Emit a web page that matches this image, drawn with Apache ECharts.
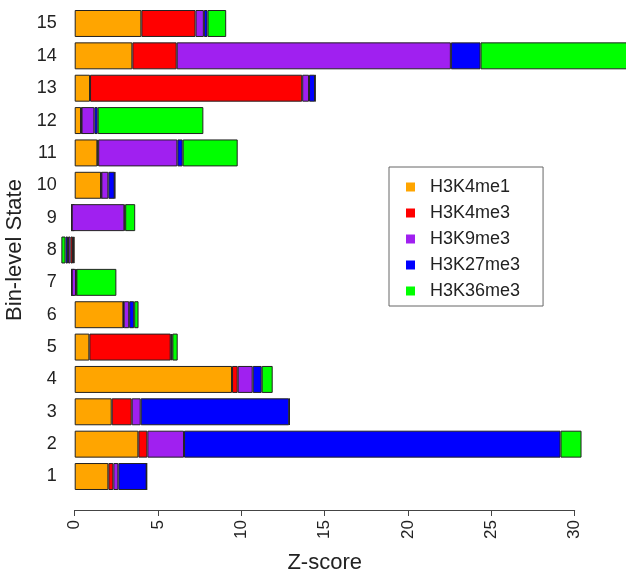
<!DOCTYPE html>
<html><head><meta charset="utf-8">
<script src="https://cdn.jsdelivr.net/npm/echarts@6/dist/echarts.min.js"></script>
<style>html,body{margin:0;padding:0;background:#fff}#c{width:626px;height:580px}</style>
</head><body><div id="c"></div>
<script>
var categories = ['1','2','3','4','5','6','7','8','9','10','11','12','13','14','15'];
var seriesNames = ['H3K4me1','H3K4me3','H3K9me3','H3K27me3','H3K36me3'];
var H3K4me1  = [2.02, 3.82, 2.22, 9.44, 0.88, 2.92, -0.18, -0.10, -0.18, 1.58, 1.36, 0.38, 0.92, 3.46, 4.00];
var H3K4me3  = [0.30, 0.54, 1.20, 0.34, 4.88, 0.02, 0.00, -0.15, 0.00, 0.02, 0.05, 0.03, 12.73, 2.66, 3.25];
var H3K9me3  = [0.30, 2.20, 0.54, 0.90, 0.05, 0.33, 0.26, -0.15, 3.16, 0.42, 4.75, 0.77, 0.41, 16.45, 0.50];
var H3K27me3 = [1.70, 22.59, 8.91, 0.54, 0.05, 0.30, 0.02, -0.15, 0.05, 0.38, 0.32, 0.20, 0.36, 1.78, 0.22];
var H3K36me3 = [0.00, 1.26, 0.03, 0.66, 0.32, 0.26, 2.40, -0.25, 0.60, 0.02, 3.30, 6.34, 0.02, 9.50, 1.12];
var xTicks = [0, 5, 10, 15, 20, 25, 30];
var colors = ['#FFA500', '#FF0000', '#A020F0', '#0000FF', '#00FF00'];
var values = [H3K4me1, H3K4me3, H3K9me3, H3K27me3, H3K36me3];

var chart = echarts.init(document.getElementById('c'), null, {renderer: 'canvas'});
var font = 'Liberation Sans, Arial, sans-serif';
var series = seriesNames.map(function (n, i) {
  return {
    name: n, type: 'bar', stack: 'z', stackStrategy: 'all',
    xAxisIndex: 0, yAxisIndex: 0, clip: false,
    barCategoryGap: '16.7%',
    itemStyle: {color: colors[i], borderColor: '#222', borderWidth: 1},
    emphasis: {disabled: true},
    data: values[i]
  };
});
chart.setOption({
  animation: false,
  color: colors,
  textStyle: {fontFamily: font},
  grid: [
    {left: 74.7, right: 0, top: 7.3, height: 485.4, containLabel: false, outerBoundsMode: 'none'},
    {left: 74.7, width: 500, top: 7.3, bottom: 70, containLabel: false, outerBoundsMode: 'none'}
  ],
  xAxis: [
    {type: 'value', gridIndex: 0, min: 0, max: 33.078, show: false},
    {type: 'value', gridIndex: 1, min: xTicks[0], max: xTicks[xTicks.length - 1], interval: 5,
     position: 'bottom',
     axisLine: {show: true, onZero: false, lineStyle: {color: '#444', width: 1}},
     axisTick: {show: true, length: 6, lineStyle: {color: '#444'}},
     splitLine: {show: false},
     axisLabel: {rotate: 90, fontSize: 17, color: '#222', margin: 10, fontFamily: font},
     name: 'Z-score', nameLocation: 'middle', nameGap: 42,
     nameTextStyle: {fontSize: 22, color: '#222', fontFamily: font}}
  ],
  yAxis: [
    {type: 'category', gridIndex: 0, data: categories,
     axisLine: {show: false, onZero: false}, axisTick: {show: false}, splitLine: {show: false},
     axisLabel: {fontSize: 18, color: '#222', margin: 18, fontFamily: font},
     name: 'Bin-level State', nameLocation: 'middle', nameGap: 44, nameRotate: 90,
     nameTextStyle: {fontSize: 22, color: '#222', fontFamily: font}},
    {type: 'value', gridIndex: 1, min: 0, max: 1, show: false}
  ],
  legend: {
    orient: 'vertical', left: 389, top: 167,
    data: seriesNames,
    icon: 'rect', itemWidth: 9, itemHeight: 9, itemGap: 8,
    itemStyle: {borderWidth: 0},
    padding: [11, 23, 6, 17],
    borderColor: '#666', borderWidth: 1,
    selectedMode: false,
    textStyle: {fontSize: 18, color: '#222', lineHeight: 18, padding: [0, 0, 0, 10], fontFamily: font}
  },
  series: series
});
</script></body></html>
